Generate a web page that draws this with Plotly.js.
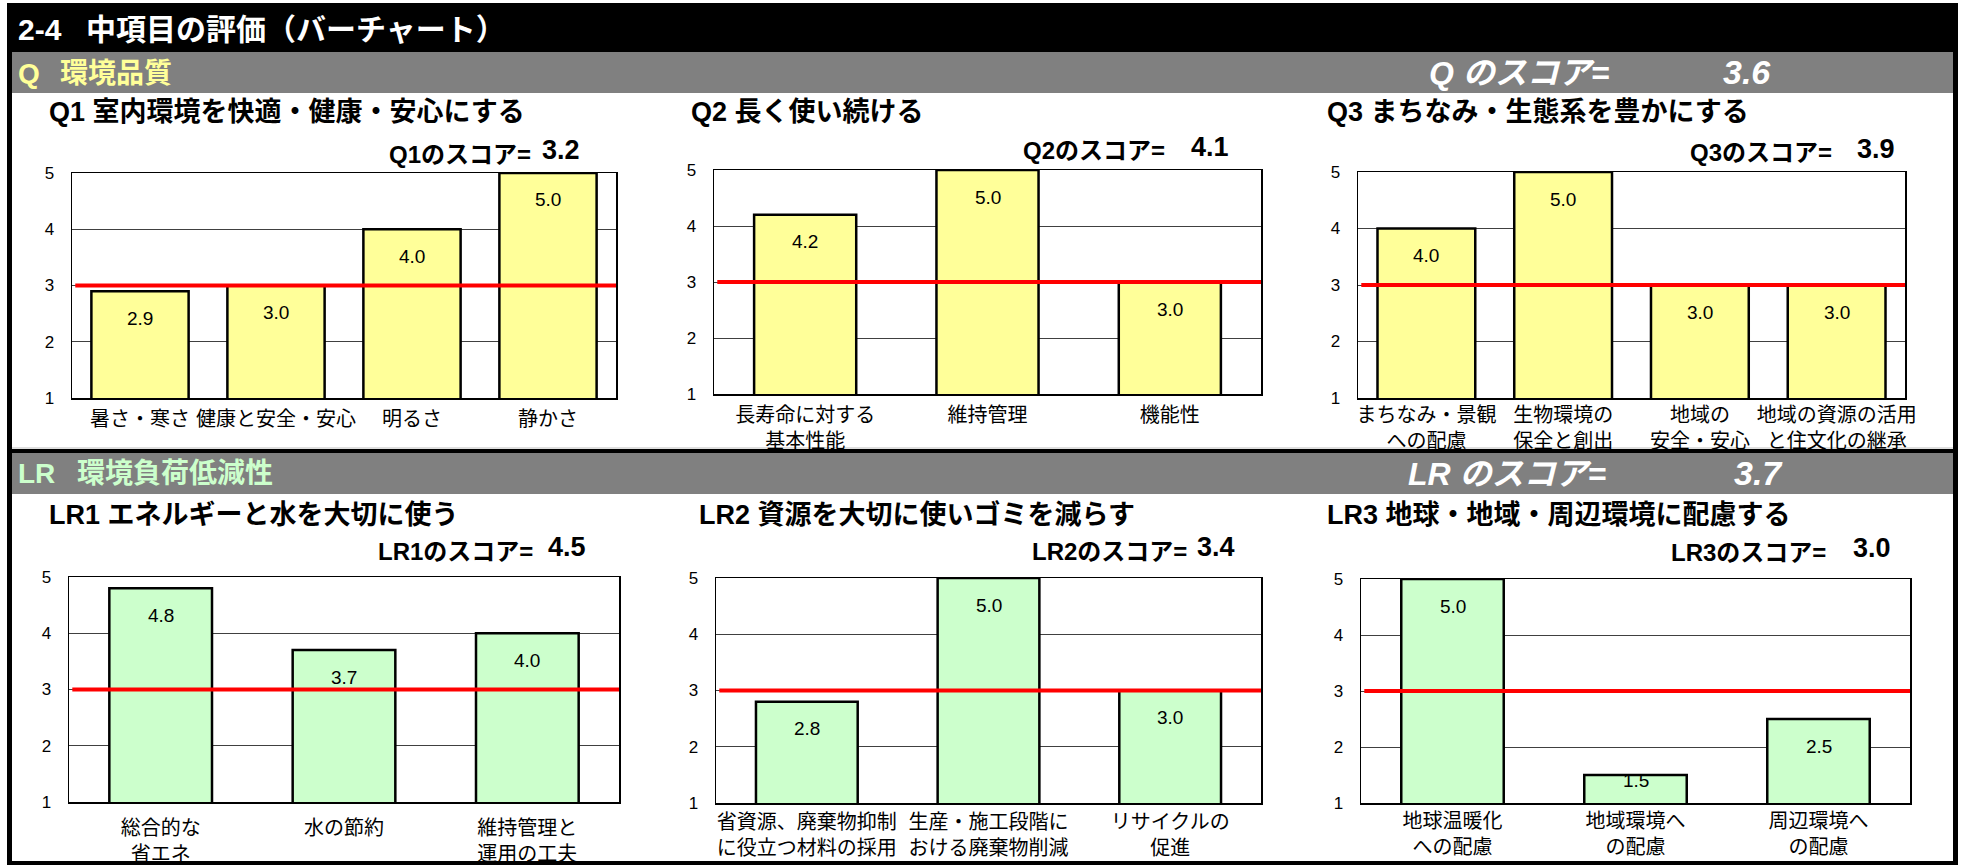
<!DOCTYPE html>
<html>
<head>
<meta charset="utf-8">
<script src="https://cdn.plot.ly/plotly-3.0.1.min.js"></script>
<style>
  html, body { margin: 0; padding: 0; background: #ffffff; }
  #chart { width: 1963px; height: 865px; }
</style>
</head>
<body>
<div id="chart"></div>
<script>
// ---------- data ----------
const pageTitleNo = '2-4';
const pageTitle = '中項目の評価（バーチャート）';

const qHeadKey = 'Q';
const qHeadName = '環境品質';
const qScoreLabel = 'Q のスコア=';
const qScore = '3.6';

const lrHeadKey = 'LR';
const lrHeadName = '環境負荷低減性';
const lrScoreLabel = 'LR のスコア=';
const lrScore = '3.7';

const q1Title = 'Q1 室内環境を快適・健康・安心にする';
const q1Cats = ['暑さ・寒さ', '健康と安全・安心', '明るさ', '静かさ'];
const q1Vals = [2.9, 3.0, 4.0, 5.0];
const q1ScoreLabel = 'Q1のスコア=';
const q1Score = '3.2';

const q2Title = 'Q2 長く使い続ける';
const q2Cats = ['長寿命に対する<br>基本性能', '維持管理', '機能性'];
const q2Vals = [4.2, 5.0, 3.0];
const q2ScoreLabel = 'Q2のスコア=';
const q2Score = '4.1';

const q3Title = 'Q3 まちなみ・生態系を豊かにする';
const q3Cats = ['まちなみ・景観<br>への配慮', '生物環境の<br>保全と創出', '地域の<br>安全・安心', '地域の資源の活用<br>と住文化の継承'];
const q3Vals = [4.0, 5.0, 3.0, 3.0];
const q3ScoreLabel = 'Q3のスコア=';
const q3Score = '3.9';

const lr1Title = 'LR1 エネルギーと水を大切に使う';
const lr1Cats = ['総合的な<br>省エネ', '水の節約', '維持管理と<br>運用の工夫'];
const lr1Vals = [4.8, 3.7, 4.0];
const lr1ScoreLabel = 'LR1のスコア=';
const lr1Score = '4.5';

const lr2Title = 'LR2 資源を大切に使いゴミを減らす';
const lr2Cats = ['省資源、廃棄物抑制<br>に役立つ材料の採用', '生産・施工段階に<br>おける廃棄物削減', 'リサイクルの<br>促進'];
const lr2Vals = [2.8, 5.0, 3.0];
const lr2ScoreLabel = 'LR2のスコア=';
const lr2Score = '3.4';

const lr3Title = 'LR3 地球・地域・周辺環境に配慮する';
const lr3Cats = ['地球温暖化<br>への配慮', '地域環境へ<br>の配慮', '周辺環境へ<br>の配慮'];
const lr3Vals = [5.0, 1.5, 2.5];
const lr3ScoreLabel = 'LR3のスコア=';
const lr3Score = '3.0';

const yTicks = [1, 2, 3, 4, 5];
const yRange = [1, 5];
const baseline = 3;

// ---------- layout helpers (pixel geometry -> paper) ----------
const W = 1963, H = 865;
const px = x => x / W;
const py = y => 1 - y / H;

const JP = '"Liberation Sans", "Noto Sans CJK JP", Arial, sans-serif';
const NUM = '"Liberation Sans", Arial, sans-serif';
const yellow = '#ffff99';
const green = '#ccffcc';

// panels: geometry in page pixels
const panels = [
  { title: q1Title, cats: q1Cats, vals: q1Vals, sl: q1ScoreLabel, sv: q1Score, color: yellow,
    box: [72, 616, 173, 398], titleX: 47, titleY: 112, slEnd: 533, svX: 540, sY: 154, bar: 0.285, xs: 2 },
  { title: q2Title, cats: q2Cats, vals: q2Vals, sl: q2ScoreLabel, sv: q2Score, color: yellow,
    box: [714, 1261, 170, 394], titleX: 689, titleY: 112, slEnd: 1167, svX: 1189, sY: 151, bar: 0.44, xs: 2 },
  { title: q3Title, cats: q3Cats, vals: q3Vals, sl: q3ScoreLabel, sv: q3Score, color: yellow,
    box: [1358, 1905, 172, 398], titleX: 1325, titleY: 112, slEnd: 1834, svX: 1855, sY: 153, bar: 0.285, xs: -2 },
  { title: lr1Title, cats: lr1Cats, vals: lr1Vals, sl: lr1ScoreLabel, sv: lr1Score, color: green,
    box: [69, 619, 577, 802], titleX: 47, titleY: 515, slEnd: 535, svX: 546, sY: 551, bar: 0.44, xs: 7 },
  { title: lr2Title, cats: lr2Cats, vals: lr2Vals, sl: lr2ScoreLabel, sv: lr2Score, color: green,
    box: [716, 1261, 578, 803], titleX: 697, titleY: 514, slEnd: 1189, svX: 1195, sY: 551, bar: 0.44, xs: 0 },
  { title: lr3Title, cats: lr3Cats, vals: lr3Vals, sl: lr3ScoreLabel, sv: lr3Score, color: green,
    box: [1361, 1910, 579, 803], titleX: 1325, titleY: 515, slEnd: 1828, svX: 1851, sY: 552, bar: 0.44, xs: -1 }
];

const traces = [];
const annotations = [];
const shapes = [];
const layout = {
  width: W, height: H, autosize: false,
  margin: { l: 0, r: 0, t: 0, b: 0, pad: 0 },
  paper_bgcolor: '#ffffff', plot_bgcolor: '#ffffff',
  showlegend: false,
  font: { family: JP, color: '#000000' }
};

// frame & header bands
function rect(x0, x1, y0, y1, color, layer) {
  shapes.push({ type: 'rect', xref: 'paper', yref: 'paper', x0: px(x0), x1: px(x1), y0: py(y1), y1: py(y0),
    fillcolor: color, line: { width: 0 }, layer: layer || 'below' });
}
rect(7, 1958, 3, 52, '#000000');
rect(12, 1953, 52, 93, '#808080');
rect(12, 1953, 447.5, 448.5, '#c0c0c0');
rect(7, 1958, 449, 453, '#000000');
rect(12, 1953, 453, 494, '#808080');
rect(7, 12, 3, 865, '#000000');
rect(1953, 1958, 3, 865, '#000000');
rect(7, 1958, 861, 865, '#000000');

function txt(text, x, y, size, color, opts) {
  const o = opts || {};
  annotations.push({
    text: text, xref: 'paper', yref: 'paper', x: px(x), y: py(y),
    xanchor: o.anchor || 'left', yanchor: 'middle', showarrow: false,
    font: { family: o.family || JP, size: size, color: color, weight: o.weight || 'bold', style: o.style || 'normal' }
  });
}
txt(pageTitleNo, 16, 29, 30, '#ffffff');
txt(pageTitle, 84, 29, 30, '#ffffff');
txt(qHeadKey, 16, 73, 28, yellow);
txt(qHeadName, 58, 73, 28, yellow);
txt(qScoreLabel, 1427, 73, 32, '#ffffff', { style: 'italic' });
txt(qScore, 1721, 72, 34, '#ffffff', { style: 'italic', family: NUM });
txt(lrHeadKey, 16, 474, 28, green);
txt(lrHeadName, 75, 474, 28, green);
txt(lrScoreLabel, 1406, 474, 32, '#ffffff', { style: 'italic' });
txt(lrScore, 1732, 473, 34, '#ffffff', { style: 'italic', family: NUM });

panels.forEach((p, i) => {
  const n = i + 1;
  const xa = 'xaxis' + (n === 1 ? '' : n);
  const ya = 'yaxis' + (n === 1 ? '' : n);
  const xr = 'x' + (n === 1 ? '' : n);
  const yr = 'y' + (n === 1 ? '' : n);
  const [l, r, t, b] = p.box;
  const plotH = b - t;

  layout[xa] = {
    domain: [px(l), px(r)], anchor: yr, type: 'category',
    tickangle: 0, showgrid: false, showline: true, mirror: true,
    linecolor: '#000000', linewidth: 1.5, ticks: '', zeroline: false,
    ticklabelstandoff: p.xs,
    tickfont: { family: '"Noto Sans CJK JP", sans-serif', size: 20, color: '#000000' },
    fixedrange: true
  };
  layout[ya] = {
    domain: [py(b), py(t)], anchor: xr, range: yRange,
    tickvals: yTicks, ticktext: yTicks.map(String),
    showgrid: true, gridcolor: '#404040', gridwidth: 1,
    showline: true, mirror: true, linecolor: '#000000', linewidth: 1.5,
    ticks: '', zeroline: false, ticklabelstandoff: 13,
    tickfont: { family: NUM, size: 17, color: '#000000' },
    fixedrange: true
  };

  traces.push({
    type: 'bar', x: p.cats, y: p.vals, xaxis: xr, yaxis: yr,
    marker: { color: p.color, line: { color: '#000000', width: 2.5 } },
    width: 1 - p.bar, hoverinfo: 'skip', cliponaxis: true
  });

  // baseline (red line at 3)
  shapes.push({ type: 'line', xref: xr + ' domain', yref: yr, x0: 0.006, x1: 1, y0: baseline, y1: baseline,
    line: { color: '#ff0000', width: 4 }, layer: 'above' });

  // value labels inside bar tops
  p.vals.forEach((v, k) => {
    const barPx = (v - yRange[0]) / (yRange[1] - yRange[0]) * plotH;
    const off = Math.min(27, barPx - 23);
    annotations.push({
      text: v.toFixed(1), xref: xr, yref: yr, x: p.cats[k], y: v,
      xanchor: 'center', yanchor: 'middle', yshift: -off, showarrow: false,
      font: { family: NUM, size: 19, color: '#000000' }
    });
  });

  // chart title and score
  txt(p.title, p.titleX, p.titleY, 27, '#000000');
  txt(p.sl, p.slEnd, p.sY, 24, '#000000', { anchor: 'right' });
  txt(p.sv, p.svX, p.sY - 4, 27, '#000000', { family: NUM });
});

layout.shapes = shapes;
layout.annotations = annotations;

Plotly.newPlot('chart', traces, layout, { staticPlot: true, displayModeBar: false });
</script>
</body>
</html>
